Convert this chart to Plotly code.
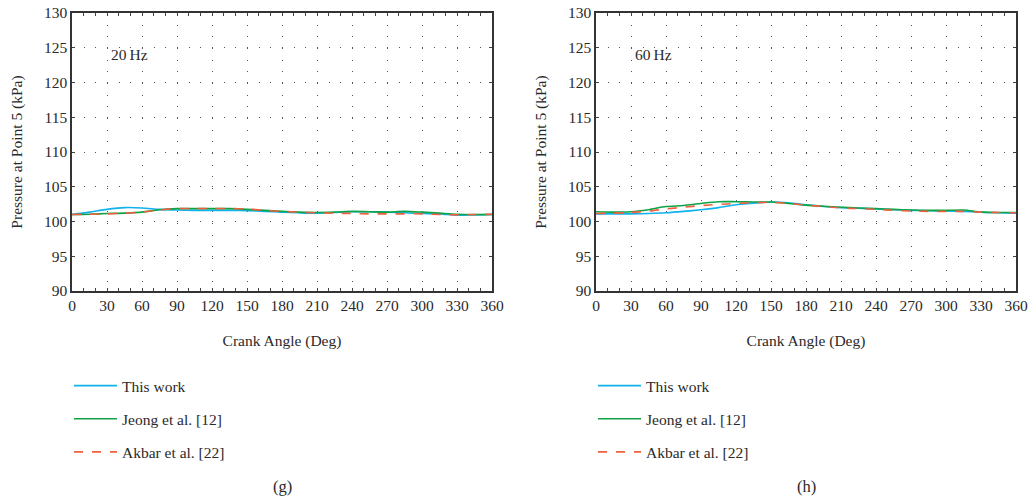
import plotly.graph_objects as go

angles = [0, 15, 30, 45, 60, 75, 90, 105, 120, 135, 150, 165, 180, 195, 210, 225, 240, 255, 270, 285, 300, 315, 330, 345, 360]

this_work_20 = [101.0, 101.35, 101.75, 102.0, 101.95, 101.75, 101.65, 101.6, 101.6, 101.6, 101.55, 101.45, 101.35, 101.25, 101.2, 101.3, 101.4, 101.4, 101.35, 101.25, 101.15, 101.1, 100.9, 100.95, 101.0]
jeong_20 = [101.0, 101.05, 101.15, 101.2, 101.35, 101.7, 101.85, 101.85, 101.85, 101.85, 101.75, 101.6, 101.45, 101.35, 101.3, 101.35, 101.45, 101.4, 101.35, 101.45, 101.35, 101.2, 101.05, 101.0, 101.0]
akbar_20 = [101.0, 101.05, 101.1, 101.2, 101.35, 101.65, 101.85, 101.87, 101.87, 101.87, 101.8, 101.6, 101.45, 101.35, 101.25, 101.2, 101.15, 101.1, 101.1, 101.1, 101.1, 101.0, 100.95, 101.0, 101.05]

this_work_60 = [101.1, 101.1, 101.1, 101.15, 101.25, 101.45, 101.7, 102.0, 102.4, 102.65, 102.8, 102.7, 102.4, 102.15, 102.0, 101.9, 101.8, 101.7, 101.6, 101.55, 101.5, 101.45, 101.35, 101.25, 101.2]
jeong_60 = [101.4, 101.35, 101.4, 101.7, 102.15, 102.3, 102.6, 102.85, 102.85, 102.8, 102.8, 102.6, 102.35, 102.2, 102.05, 101.95, 101.85, 101.75, 101.65, 101.6, 101.6, 101.65, 101.35, 101.3, 101.3]
akbar_60 = [101.15, 101.2, 101.3, 101.5, 101.8, 102.05, 102.3, 102.45, 102.6, 102.7, 102.75, 102.6, 102.35, 102.15, 101.95, 101.85, 101.75, 101.6, 101.5, 101.45, 101.45, 101.45, 101.35, 101.3, 101.25]

series_names = ["This work", "Jeong et al. [12]", "Akbar et al. [22]"]
colors = ["#12B2EC", "#0FA246", "#F0603F"]
dashes = ["solid", "solid", "dash"]

x_ticks = list(range(0, 361, 30))
y_ticks = list(range(90, 131, 5))
freq_labels = ["20\u2009Hz", "60\u2009Hz"]
panel_labels = ["(g)", "(h)"]

FONT = "Liberation Serif"
FS = 15.5
TXT = "#2a2a2a"

fig = go.Figure()

panels = [
    ([this_work_20, jeong_20, akbar_20], "x", "y", "legend"),
    ([this_work_60, jeong_60, akbar_60], "x2", "y2", "legend2"),
]
for data, xa, ya, lg in panels:
    for i, (vals, name) in enumerate(zip(data, series_names)):
        fig.add_trace(go.Scatter(
            x=angles, y=vals, mode="lines", name=name,
            line=dict(color=colors[i], width=1.6, dash=dashes[i], shape="spline", smoothing=0.8),
            xaxis=xa, yaxis=ya, legend=lg, legendgroup=f"{lg}{i}",
        ))

W, H = 1030, 502
L, R, T, B = 72, 14, 13, 211
pw = W - L - R
ph = H - T - B
d1 = [0, 420 / pw]
d2 = [(596 - L) / pw, 1.0]

grid = dict(showgrid=True, gridcolor="#555555", gridwidth=1, griddash="1px,10.67px")
axis_common = dict(
    showline=True, linecolor="#333333", linewidth=1.5, mirror="ticks",
    ticks="inside", ticklen=3, tickcolor="#444444", automargin=False,
    tickfont=dict(family=FONT, size=FS, color=TXT), zeroline=False,
)

for k, dom in ((1, d1), (2, d2)):
    xs = "xaxis" if k == 1 else "xaxis2"
    ys = "yaxis" if k == 1 else "yaxis2"
    fig.update_layout(**{
        xs: dict(domain=dom, range=[0, 360], tickvals=x_ticks, anchor="y" if k == 1 else "y2",
                 title=dict(text="Crank Angle (Deg)", font=dict(family=FONT, size=FS, color=TXT), standoff=22),
                 minor=dict(dtick=10, ticks="inside", ticklen=3, tickcolor="#444444"),
                 **grid, **axis_common),
        ys: dict(domain=[0, 1], range=[90, 130], tickvals=y_ticks, anchor="x" if k == 1 else "x2",
                 title=dict(text="Pressure at Point 5 (kPa)", font=dict(family=FONT, size=FS, color=TXT), standoff=17),
                 **grid, **axis_common),
    })

leg_common = dict(
    font=dict(family=FONT, size=FS, color=TXT), bgcolor="rgba(0,0,0,0)",
    tracegroupgap=10, xanchor="left", yanchor="top", itemwidth=43,
)
fig.update_layout(
    legend=dict(x=(69 - L) / pw, y=(H - B - 369) / ph, **leg_common),
    legend2=dict(x=(593 - L) / pw, y=(H - B - 369) / ph, **leg_common),
)

for k, dom in ((1, d1), (2, d2)):
    fig.add_annotation(text=freq_labels[k - 1], xref="x" if k == 1 else "x2", yref="y" if k == 1 else "y2",
                       x=32, y=124, xanchor="left", yanchor="middle", showarrow=False,
                       font=dict(family=FONT, size=FS, color=TXT))
    fig.add_annotation(text=panel_labels[k - 1], xref="paper", yref="paper",
                       x=(dom[0] + dom[1]) / 2, y=(H - B - 486) / ph, xanchor="center", yanchor="middle",
                       showarrow=False, font=dict(family=FONT, size=FS + 1, color=TXT))

fig.update_layout(
    width=W, height=H, margin=dict(l=L, r=R, t=T, b=B, autoexpand=False),
    paper_bgcolor="white", plot_bgcolor="white", showlegend=True,
)

fig.write_html("out.html")
